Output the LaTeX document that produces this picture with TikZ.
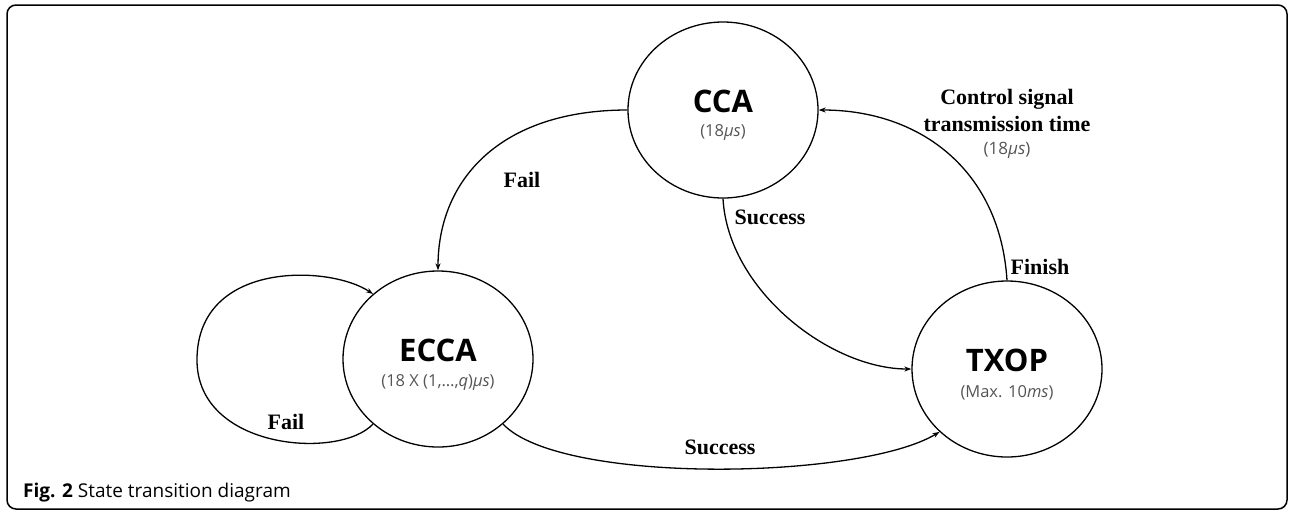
\documentclass[tikz,border=0pt]{standalone}
\usepackage{fontspec}
\setmainfont{Liberation Serif}
\setsansfont{Open Sans}
\usetikzlibrary{shapes.geometric,arrows.meta}
\definecolor{subgray}{HTML}{555555}
\tikzset{
  state/.style={ellipse, draw, line width=1.3pt, minimum width=190pt, minimum height=176pt, inner sep=0pt},
  statename/.style={anchor=base, inner sep=0pt, font=\sffamily\bfseries\fontsize{31}{34}\selectfont},
  statetime/.style={anchor=base, inner sep=0pt, font=\sffamily\fontsize{16.5}{20}\selectfont, text=subgray},
  trans/.style={line width=1.3pt, -{Stealth[length=7pt,width=5pt]}},
  lbl/.style={font=\fontsize{22}{27}\selectfont\bfseries, inner sep=0pt, align=center},
  sub/.style={font=\sffamily\fontsize{17}{20}\selectfont, text=subgray},
}
\begin{document}
\begin{tikzpicture}[x=1pt,y=-1pt]
  \useasboundingbox (0,0) rectangle (1290,512);
  % outer frame
  \draw[line width=1.5pt, rounded corners=9pt] (7,5) rectangle (1287,509);

  % states
  \node[state] (cca)  at (723,110) {};
  \node[state] (ecca) at (438,359) {};
  \node[state] (txop) at (1007,369) {};

  % state names and durations
  \node[statename] (ccaname)  at ([yshift=-2pt]cca.center)  {CCA};
  \node[statetime] (ccatime)  at ([yshift=-26pt]cca.center) {(18\textit{μs})};
  \node[statename] (eccaname) at ([yshift=-2pt]ecca.center) {ECCA};
  \node[statetime] (eccatime) at ([yshift=-27pt]ecca.center) {(18 X (1,…,\textit{q})\textit{μs})};
  \node[statename] (txopname) at ([yshift=-2pt]txop.center) {TXOP};
  \node[statetime] (txoptime) at ([yshift=-28pt]txop.center) {(Max. 10\textit{ms})};

  % transitions
  \draw[trans] (cca.west) .. controls (500,110) and (438,180) .. (ecca.north);
  \draw[trans] (cca.south) .. controls (728,290) and (830,369) .. (txop.west);
  \draw[trans] (ecca.-45) .. controls (560,485) and (860,480) .. (txop.223);
  \draw[trans] (txop.north) .. controls (1000,170) and (920,110) .. (cca.east);
  \draw[trans] (ecca.225) .. controls (340,460) and (197,450) .. (197,360)
                .. controls (197,260) and (330,265) .. (ecca.135);

  % transition labels
  \node[lbl] (lfail1) at (522,180) {Fail};
  \node[lbl] (lsucc1) at (770,217) {Success};
  \node[lbl] (lsucc2) at (720,447) {Success};
  \node[lbl] (lfail2) at (286,422) {Fail};
  \node[lbl] (lfin)   at (1040,267) {Finish};
  \node[lbl] (lctrl)  at (1007,110) {Control signal\\transmission time};
  \node[sub] (lctrlt) at (1007,150) {(18\textit{μs})};

  % caption
  \node[anchor=base west, inner sep=0pt, font=\sffamily\fontsize{19}{22}\selectfont] (cap) at (23,497)
    {\textbf{Fig. 2} State transition diagram};
\end{tikzpicture}
\end{document}
